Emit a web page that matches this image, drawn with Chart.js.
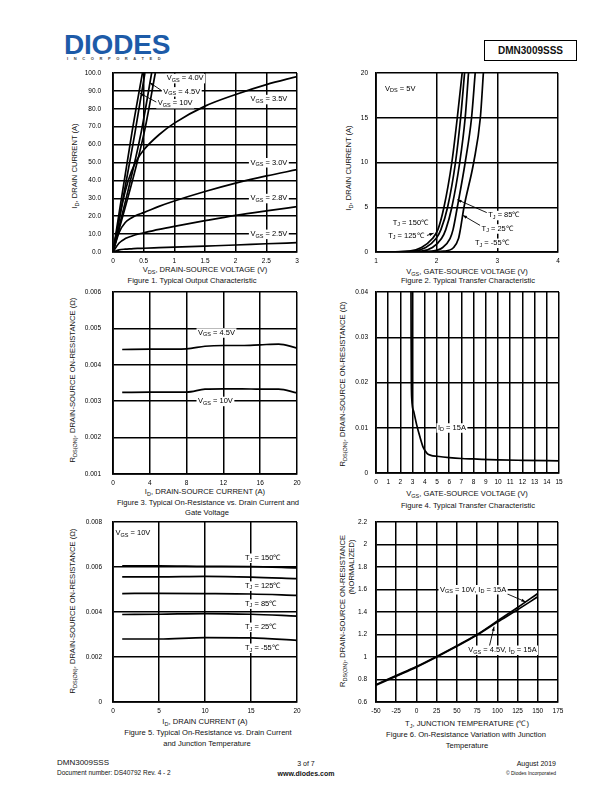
<!DOCTYPE html>
<html>
<head>
<meta charset="utf-8">
<script src="https://cdn.jsdelivr.net/npm/chart.js@4.4.1/dist/chart.umd.min.js"></script>
<style>
  body { margin: 0; width: 612px; height: 792px; position: relative; overflow: hidden; background: #fff;
         font-family: "Liberation Sans", Arial, sans-serif; color: #111; }
  canvas { position: absolute; }
  .t { position: absolute; white-space: nowrap; font-size: 7.6px; line-height: 1; transform: translate(-50%, -50%); }
  .l { transform: translate(0, -50%); }
  .r { transform: translate(-100%, -50%); }
  .v { transform: translate(-50%, -50%) rotate(-90deg); }
  sub { font-size: 5.5px; vertical-align: -1.5px; line-height: 0; }
  .logo { position: absolute; left: 64px; top: 31px; font: bold 28px/28px "Liberation Sans", Arial, sans-serif;
          color: #1d5ba8; letter-spacing: -0.2px; }
  .inc { position: absolute; left: 67px; top: 57px; font: bold 4px/4px "Liberation Sans", Arial, sans-serif;
         color: #444; letter-spacing: 5.6px; }
  .part { position: absolute; left: 484px; top: 40px; width: 91px; height: 19px; border: 1px solid #000;
          font: bold 10px/19px "Liberation Sans", Arial, sans-serif; text-align: center; }
</style>
</head>
<body>
<div class="logo">DIODES</div>
<div class="inc">INCORPORATED</div>
<div class="part">DMN3009SSS</div>

<!-- figure 1 -->
<div class="t v" style="left:75px;top:166px">I<sub>D</sub>, DRAIN CURRENT (A)</div>
<div class="t" style="left:205px;top:270px">V<sub>DS</sub>, DRAIN-SOURCE VOLTAGE (V)</div>
<div class="t" style="left:192px;top:281px">Figure 1. Typical Output Characteristic</div>
<!-- figure 2 -->
<div class="t v" style="left:349px;top:168px">I<sub>D</sub>, DRAIN CURRENT (A)</div>
<div class="t" style="left:467px;top:272px">V<sub>GS</sub>, GATE-SOURCE VOLTAGE (V)</div>
<div class="t" style="left:468px;top:281px">Figure 2. Typical Transfer Characteristic</div>
<!-- figure 3 -->
<div class="t v" style="left:73px;top:380px">R<sub>DS(ON)</sub>, DRAIN-SOURCE ON-RESISTANCE (&Omega;)</div>
<div class="t" style="left:205px;top:492px">I<sub>D</sub>, DRAIN-SOURCE CURRENT (A)</div>
<div class="t" style="left:208px;top:503px">Figure 3. Typical On-Resistance vs. Drain Current and</div>
<div class="t" style="left:207px;top:513px">Gate Voltage</div>
<!-- figure 4 -->
<div class="t v" style="left:343px;top:384px">R<sub>DS(ON)</sub>, DRAIN-SOURCE ON-RESISTANCE (&Omega;)</div>
<div class="t" style="left:467px;top:494px">V<sub>GS</sub>, GATE-SOURCE VOLTAGE (V)</div>
<div class="t" style="left:468px;top:506px">Figure 4. Typical Transfer Characteristic</div>
<!-- figure 5 -->
<div class="t v" style="left:73px;top:611px">R<sub>DS(ON)</sub>, DRAIN-SOURCE ON-RESISTANCE (&Omega;)</div>
<div class="t" style="left:205px;top:722px">I<sub>D</sub>, DRAIN CURRENT (A)</div>
<div class="t" style="left:208px;top:733px">Figure 5. Typical On-Resistance vs. Drain Current</div>
<div class="t" style="left:207px;top:744px">and Junction Temperature</div>
<!-- figure 6 -->
<div class="t v" style="left:343px;top:611px">R<sub>DS(ON)</sub>, DRAIN-SOURCE ON-RESISTANCE</div>
<div class="t v" style="left:352px;top:567px">(NORMALIZED)</div>
<div class="t" style="left:467px;top:724px">T<sub>J</sub>, JUNCTION TEMPERATURE (&#8451;)</div>
<div class="t" style="left:466px;top:735px">Figure 6. On-Resistance Variation with Junction</div>
<div class="t" style="left:467px;top:746px">Temperature</div>

<!-- footer -->
<div class="t l" style="left:57px;top:763px;font-size:8px">DMN3009SSS</div>
<div class="t l" style="left:57px;top:773px;font-size:6.5px">Document number: DS40792 Rev. 4 - 2</div>
<div class="t" style="left:306px;top:763px;font-size:7px">3 of 7</div>
<div class="t" style="left:306px;top:773px;font-weight:bold;font-size:7px">www.diodes.com</div>
<div class="t r" style="left:556px;top:763px;font-size:7px">August 2019</div>
<div class="t r" style="left:556px;top:773px;font-size:5px">&copy; Diodes Incorporated</div>

<script>
const FONT = '"Liberation Sans", Arial, sans-serif';
const INK = '#000';

// Figure 1 - output characteristic
const fig1XLabels = ['0', '0.5', '1', '1.5', '2', '2.5', '3'];
const fig1YLabels = ['0.0', '10.0', '20.0', '30.0', '40.0', '50.0', '60.0', '70.0', '80.0', '90.0', '100.0'];
const fig1Vds = [0, 0.1, 0.2, 0.3, 0.4, 0.5, 0.75, 1, 1.5, 2, 2.5, 3];
const fig1Id35 = [0, 18, 34, 45, 52, 57, 65.5, 72, 81.5, 88, 93.5, 98];
const fig1Id30 = [0, 11, 16.5, 19, 20.8, 22, 25.5, 28.5, 33.8, 38.5, 42.5, 46];
const fig1Id28 = [0, 5, 7.5, 8.8, 9.9, 10.7, 12.6, 14.3, 17.5, 20.5, 23, 25.3];
const fig1Id25 = [0, 1.2, 1.6, 1.8, 2.0, 2.1, 2.4, 2.7, 3.3, 3.9, 4.6, 5.2];
const fig1IdSteep = [0, 67, 100];
const fig1Vds10 = [0, 0.31, 0.48];
const fig1Vds6 = [0, 0.36, 0.52];
const fig1Vds45 = [0, 0.46, 0.63];
const fig1Vds40 = [0, 0.51, 0.69];

// Figure 2 - transfer characteristic (gate voltage at each current level)
const fig2XLabels = ['1', '2', '3', '4'];
const fig2YLabels = ['0', '5', '10', '15', '20'];
const fig2Id = [0, 0.1, 0.5, 1.5, 2.5, 5, 10, 15, 20];
const fig2Vgs150 = [1.10, 1.55, 1.75, 1.93, 2.02, 2.12, 2.25, 2.34, 2.42];
const fig2Vgs125 = [1.15, 1.62, 1.82, 1.99, 2.07, 2.18, 2.31, 2.395, 2.46];
const fig2Vgs85 = [1.25, 1.75, 1.93, 2.08, 2.15, 2.25, 2.38, 2.47, 2.525];
const fig2Vgs25 = [1.45, 1.92, 2.10, 2.22, 2.27, 2.34, 2.47, 2.575, 2.635];
const fig2VgsM55 = [1.70, 2.12, 2.28, 2.36, 2.39, 2.45, 2.61, 2.72, 2.77];

// Figure 3 - on-resistance vs drain current
const fig3XLabels = ['0', '4', '8', '12', '16', '20'];
const fig3YLabels = ['0.001', '0.002', '0.003', '0.004', '0.005', '0.006'];
const fig3Id = [1, 4, 8, 10, 12, 14, 16, 18, 20];
const fig3Rds45 = [0.00442, 0.00443, 0.00444, 0.00451, 0.00453, 0.00453, 0.00455, 0.00457, 0.00446];
const fig3Rds10 = [0.00324, 0.00325, 0.00325, 0.00333, 0.00334, 0.00334, 0.00333, 0.00333, 0.00323];

// Figure 4 - on-resistance vs gate voltage
const fig4XLabels = ['0', '1', '2', '3', '4', '5', '6', '7', '8', '9', '10', '11', '12', '13', '14', '15'];
const fig4YLabels = ['0', '0.01', '0.02', '0.03', '0.04'];
const fig4Vgs = [2.87, 2.88, 2.90, 2.93, 3.1, 3.33, 3.6, 3.88, 4.2, 4.5, 5, 6, 7, 8, 10, 12, 15];
const fig4Rds = [0.040, 0.030, 0.020, 0.0165, 0.0135, 0.0107, 0.0080, 0.0056, 0.0043, 0.0039, 0.0037,
                 0.0034, 0.0032, 0.0031, 0.0029, 0.0028, 0.0027];

// Figure 5 - on-resistance vs drain current and temperature
const fig5XLabels = ['0', '5', '10', '15', '20'];
const fig5YLabels = ['0', '0.002', '0.004', '0.006', '0.008'];
const fig5Id = [1, 5, 10, 15, 20];
const fig5Rds150 = [0.00605, 0.00605, 0.00603, 0.00602, 0.00596];
const fig5Rds125 = [0.00556, 0.00556, 0.00558, 0.00555, 0.00548];
const fig5Rds85 = [0.00482, 0.00483, 0.00482, 0.00480, 0.00474];
const fig5Rds25 = [0.00389, 0.00390, 0.00393, 0.00390, 0.00382];
const fig5RdsM55 = [0.00280, 0.00280, 0.00286, 0.00285, 0.00274];

// Figure 6 - normalized on-resistance vs junction temperature
const fig6XLabels = ['-50', '-25', '0', '25', '50', '75', '100', '125', '150', '175'];
const fig6YLabels = ['0.6', '0.8', '1', '1.2', '1.4', '1.6', '1.8', '2', '2.2'];
const fig6Tj = [-50, -25, 0, 25, 50, 75, 100, 125, 150];
const fig6Rn10 = [0.755, 0.835, 0.915, 1.005, 1.10, 1.20, 1.32, 1.44, 1.565];
const fig6Rn45 = [0.750, 0.830, 0.910, 1.000, 1.095, 1.195, 1.31, 1.42, 1.535];

const pts = (xs, ys) => xs.map((x, i) => ({ x, y: ys[i] }));

// split "V_{GS} = 5V" into normal / subscript runs
function runs(str) {
  const out = [];
  const re = /_\{([^}]*)\}/g;
  let last = 0, m;
  while ((m = re.exec(str))) {
    if (m.index > last) out.push([str.slice(last, m.index), false]);
    out.push([m[1], true]);
    last = re.lastIndex;
  }
  if (last < str.length) out.push([str.slice(last), false]);
  return out;
}

function drawNote(ctx, x, y, text) {
  const parts = runs(text);
  const fnt = s => (s ? '5.5px ' : '7.5px ') + FONT;
  let w = 0;
  parts.forEach(([s, sub]) => { ctx.font = fnt(sub); w += ctx.measureText(s).width; });
  ctx.fillStyle = '#fff';
  ctx.fillRect(x - 1.5, y - 4.5, w + 3, 9.5);
  ctx.fillStyle = INK;
  ctx.textBaseline = 'middle';
  ctx.textAlign = 'left';
  let cx = x;
  parts.forEach(([s, sub]) => {
    ctx.font = fnt(sub);
    ctx.fillText(s, cx, sub ? y + 2 : y);
    cx += ctx.measureText(s).width;
  });
}

function drawArrow(ctx, x1, y1, x2, y2) {
  const a = Math.atan2(y2 - y1, x2 - x1);
  ctx.strokeStyle = INK;
  ctx.lineWidth = 0.9;
  ctx.beginPath();
  ctx.moveTo(x1, y1);
  ctx.lineTo(x2, y2);
  ctx.stroke();
  ctx.fillStyle = INK;
  ctx.beginPath();
  ctx.moveTo(x2, y2);
  ctx.lineTo(x2 - 4.5 * Math.cos(a - 0.35), y2 - 4.5 * Math.sin(a - 0.35));
  ctx.lineTo(x2 - 4.5 * Math.cos(a + 0.35), y2 - 4.5 * Math.sin(a + 0.35));
  ctx.closePath();
  ctx.fill();
}

const notesPlugin = {
  id: 'notes',
  afterDatasetsDraw(chart, args, opts) {
    const { ctx, scales: { x, y } } = chart;
    ctx.save();
    (opts.arrows || []).forEach(a => drawArrow(ctx,
      x.getPixelForValue(a[0]), y.getPixelForValue(a[1]),
      x.getPixelForValue(a[2]), y.getPixelForValue(a[3])));
    (opts.labels || []).forEach(l => drawNote(ctx, x.getPixelForValue(l.x), y.getPixelForValue(l.y), l.text));
    ctx.restore();
  }
};

function axis(labels, dir, size, pad) {
  const values = labels.map(Number);
  return {
    type: 'linear',
    min: values[0],
    max: values[values.length - 1],
    afterBuildTicks: s => { s.ticks = values.map(v => ({ value: v })); },
    afterFit: s => { if (dir === 'x') s.height = size; else s.width = size; },
    ticks: {
      callback: (v, i) => labels[i],
      font: { family: FONT, size: 6.5 },
      color: INK,
      padding: pad,
      autoSkip: false,
      maxRotation: 0
    },
    grid: { color: INK, lineWidth: 1.5, drawTicks: false },
    border: { color: INK, width: 1.8 }
  };
}

function makeChart(box, xLabels, yLabels, series, notes) {
  // tick padding also pads the top of the y axis, so the top margin must cover it
  const yW = 40, padT = box.yPad + 6, padR = 12, xH = 18;
  const canvas = document.createElement('canvas');
  canvas.width = box.r - box.l + yW + padR;
  canvas.height = box.b - box.t + padT + xH;
  canvas.style.left = (box.l - yW) + 'px';
  canvas.style.top = (box.t - padT) + 'px';
  document.body.appendChild(canvas);
  return new Chart(canvas, {
    type: 'scatter',
    data: {
      datasets: series.map(s => ({
        data: s,
        showLine: true,
        borderColor: INK,
        borderWidth: 1.7,
        pointRadius: 0,
        cubicInterpolationMode: 'monotone',
        fill: false
      }))
    },
    options: {
      responsive: false,
      animation: false,
      events: [],
      layout: { padding: { left: 0, top: padT, right: padR, bottom: 0 } },
      plugins: { legend: { display: false }, tooltip: { enabled: false }, notes },
      scales: {
        x: axis(xLabels, 'x', xH, 5),
        y: axis(yLabels, 'y', yW, box.yPad)
      }
    },
    plugins: [notesPlugin]
  });
}

makeChart({ l: 113, t: 73, r: 297, b: 252, yPad: 12 }, fig1XLabels, fig1YLabels, [
  pts(fig1Vds, fig1Id35), pts(fig1Vds, fig1Id30), pts(fig1Vds, fig1Id28), pts(fig1Vds, fig1Id25),
  pts(fig1Vds10, fig1IdSteep), pts(fig1Vds6, fig1IdSteep), pts(fig1Vds45, fig1IdSteep), pts(fig1Vds40, fig1IdSteep)
], {
  labels: [
    { x: 0.875, y: 97, text: 'V_{GS} = 4.0V' },
    { x: 0.82, y: 89.6, text: 'V_{GS} = 4.5V' },
    { x: 0.73, y: 83, text: 'V_{GS} = 10V' },
    { x: 2.24, y: 85.3, text: 'V_{GS} = 3.5V' },
    { x: 2.24, y: 50, text: 'V_{GS} = 3.0V' },
    { x: 2.24, y: 30, text: 'V_{GS} = 2.8V' },
    { x: 2.24, y: 10, text: 'V_{GS} = 2.5V' }
  ],
  arrows: [[0.80, 90, 0.6, 94.6], [0.72, 83.5, 0.44, 88.7]]
});

makeChart({ l: 376, t: 73, r: 558, b: 252, yPad: 8 }, fig2XLabels, fig2YLabels, [
  pts(fig2Vgs150, fig2Id), pts(fig2Vgs125, fig2Id), pts(fig2Vgs85, fig2Id), pts(fig2Vgs25, fig2Id), pts(fig2VgsM55, fig2Id)
], {
  labels: [
    { x: 1.15, y: 18.26, text: 'V_{DS} = 5V' },
    { x: 1.275, y: 3.3, text: 'T_{J} = 150\u2103' },
    { x: 1.2, y: 1.8, text: 'T_{J} = 125\u2103' },
    { x: 2.85, y: 4.1, text: 'T_{J} = 85\u2103' },
    { x: 2.74, y: 2.6, text: 'T_{J} = 25\u2103' },
    { x: 2.63, y: 1.0, text: 'T_{J} = -55\u2103' }
  ],
  arrows: [[1.84, 1.85, 1.95, 2.1], [2.86, 4.3, 2.34, 5.85], [2.76, 2.8, 2.43, 4.1]]
});

makeChart({ l: 113, t: 292, r: 297, b: 474, yPad: 12 }, fig3XLabels, fig3YLabels, [
  pts(fig3Id, fig3Rds45), pts(fig3Id, fig3Rds10)
], {
  labels: [
    { x: 9.24, y: 0.00488, text: 'V_{GS} = 4.5V' },
    { x: 9.24, y: 0.003, text: 'V_{GS} = 10V' }
  ]
});

makeChart({ l: 376, t: 292, r: 559, b: 473, yPad: 8 }, fig4XLabels, fig4YLabels, [
  pts(fig4Vgs, fig4Rds)
], {
  labels: [{ x: 5.08, y: 0.01, text: 'I_{D} = 15A' }]
});

makeChart({ l: 113, t: 522, r: 297, b: 702, yPad: 11 }, fig5XLabels, fig5YLabels, [
  pts(fig5Id, fig5Rds150), pts(fig5Id, fig5Rds125), pts(fig5Id, fig5Rds85), pts(fig5Id, fig5Rds25), pts(fig5Id, fig5RdsM55)
], {
  labels: [
    { x: 0.27, y: 0.00751, text: 'V_{GS} = 10V' },
    { x: 14.35, y: 0.0064, text: 'T_{J} = 150\u2103' },
    { x: 14.35, y: 0.00516, text: 'T_{J} = 125\u2103' },
    { x: 14.35, y: 0.00436, text: 'T_{J} = 85\u2103' },
    { x: 14.35, y: 0.00333, text: 'T_{J} = 25\u2103' },
    { x: 14.35, y: 0.0024, text: 'T_{J} = -55\u2103' }
  ]
});

makeChart({ l: 376, t: 522, r: 558, b: 702, yPad: 9 }, fig6XLabels, fig6YLabels, [
  pts(fig6Tj, fig6Rn10), pts(fig6Tj, fig6Rn45)
], {
  labels: [
    { x: 29.1, y: 1.6, text: 'V_{GS} = 10V, I_{D} = 15A' },
    { x: 64.1, y: 1.062, text: 'V_{GS} = 4.5V, I_{D} = 15A' }
  ],
  arrows: [[103, 1.59, 135, 1.49], [90, 1.09, 96, 1.27]]
});
</script>
</body>
</html>
